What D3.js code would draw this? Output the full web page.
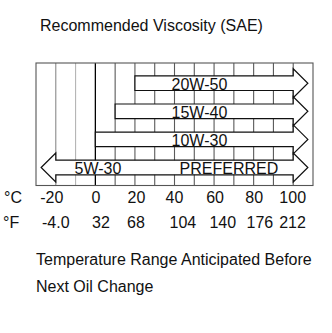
<!DOCTYPE html>
<html><head><meta charset="utf-8">
<script src="https://cdn.jsdelivr.net/npm/d3@7"></script>
<style>
html,body{margin:0;padding:0;background:#fff;}
svg{display:block;font-family:"Liberation Sans",Arial,sans-serif;}
</style></head>
<body>
<script>
// ---- data ----
const grades = ["20W-50", "15W-40", "10W-30", "5W-30"];
const gradeMinC = [20, 10, 0, -20];          // lowest °C for each grade
const gradeMaxC = [100, 100, 100, 100];      // highest °C (arrow continues beyond)
const gradeOpenLow = [false, false, false, true]; // arrow also points to colder temps
const gradeNote = ["", "", "", "PREFERRED"];
const celsiusTicks = [-20, 0, 20, 40, 60, 80, 100];
const fahrenheitLabels = ["-4.0", "32", "68", "104", "140", "176", "212"];
const gridTemps = [-20, -10, 0, 10, 20, 30, 40, 50, 60, 70, 80, 90, 100];
const titleText = "Recommended Viscosity (SAE)";
const captionLines = ["Temperature Range Anticipated Before", "Next Oil Change"];

// ---- layout ----
const W = 332, H = 333;
const svg = d3.select("body").append("svg").attr("width", W).attr("height", H);
const x = d3.scaleLinear().domain([-30, 110]).range([36, 313]);
const y = d3.scalePoint().domain(grades).range([83.2, 167.5]);
const boxTop = 63, boxBottom = 185.5;
const bodyH = 14.6, headH = 14.5, headLen = x(107.4) - x(100);

// grid lines
const gridColor = t => t === 0 ? "#000" : t === -20 ? "#8a8a8a" : t === -10 ? "#b5b5b5" : "#5a5a5a";
svg.append("g").selectAll("line").data(gridTemps).join("line")
  .attr("x1", d => x(d)).attr("x2", d => x(d))
  .attr("y1", boxTop).attr("y2", boxBottom)
  .attr("stroke", gridColor).attr("stroke-width", d => d === 0 ? 1.3 : 1.1);

// frame
svg.append("rect").attr("x", x(-30)).attr("y", boxTop)
  .attr("width", x(110) - x(-30)).attr("height", boxBottom - boxTop)
  .attr("fill", "none").attr("stroke", "#555").attr("stroke-width", 1.1);

// arrows
const rows = grades.map((g, i) => ({g, lo: gradeMinC[i], hi: gradeMaxC[i], open: gradeOpenLow[i], note: gradeNote[i]}));
function arrowPath(d) {
  const c = y(d.g), t = c - bodyH / 2, b = c + bodyH / 2;
  const xr = x(d.hi), xl = x(d.lo);
  const p = d3.path();
  if (d.open) {
    p.moveTo(xl - headLen, c);
    p.lineTo(xl, c - headH);
    p.lineTo(xl, t);
  } else {
    p.moveTo(xl, b);
    p.lineTo(xl, t);
  }
  p.lineTo(xr, t);
  p.lineTo(xr, c - headH);
  p.lineTo(xr + headLen, c);
  p.lineTo(xr, c + headH);
  p.lineTo(xr, b);
  p.lineTo(xl, b);
  if (d.open) { p.lineTo(xl, c + headH); }
  p.closePath();
  return p.toString();
}
const ag = svg.append("g");
ag.selectAll("path").data(rows).join("path")
  .attr("d", arrowPath).attr("fill", "#fff").attr("stroke", "#111")
  .attr("stroke-width", 1.2).attr("stroke-linejoin", "miter");
ag.selectAll("text.grade").data(rows).join("text").attr("class", "grade")
  .attr("x", d => d.open ? x(1.3) : x(52.6))
  .attr("y", d => y(d.g) + bodyH / 2 - 0.6)
  .attr("text-anchor", "middle").attr("font-size", 16).attr("fill", "#111")
  .text(d => d.g);
ag.selectAll("text.note").data(rows.filter(d => d.note)).join("text").attr("class", "note")
  .attr("x", x(67.5)).attr("y", d => y(d.g) + bodyH / 2 - 0.6)
  .attr("text-anchor", "middle").attr("font-size", 16).attr("fill", "#111")
  .text(d => d.note);

// title
svg.append("text").attr("x", 40).attr("y", 31).attr("font-size", 16).attr("fill", "#111").text(titleText);

// temperature axes
const cNudge = [-4, 0.5, 1.5, 0, 1, 0.5, -0.5];
const fNudge = [0, 5.6, 1, 8.4, 8.7, 6.2, -0.7];
svg.append("text").attr("x", 4).attr("y", 203).attr("font-size", 16).attr("fill", "#111").text("°C");
svg.append("text").attr("x", 3).attr("y", 227.5).attr("font-size", 16).attr("fill", "#111").text("°F");
svg.append("g").selectAll("text").data(celsiusTicks).join("text")
  .attr("x", (d, i) => x(d) + cNudge[i]).attr("y", 203)
  .attr("text-anchor", "middle").attr("font-size", 16).attr("fill", "#111")
  .text(d => d);
svg.append("g").selectAll("text").data(fahrenheitLabels).join("text")
  .attr("x", (d, i) => x(celsiusTicks[i]) + fNudge[i]).attr("y", 227.5)
  .attr("text-anchor", "middle").attr("font-size", 16).attr("fill", "#111")
  .text(d => d);

// caption
svg.append("g").selectAll("text").data(captionLines).join("text")
  .attr("x", 36).attr("y", (d, i) => 265 + i * 26.7)
  .attr("font-size", 16).attr("fill", "#111").text(d => d);
</script>
</body></html>
